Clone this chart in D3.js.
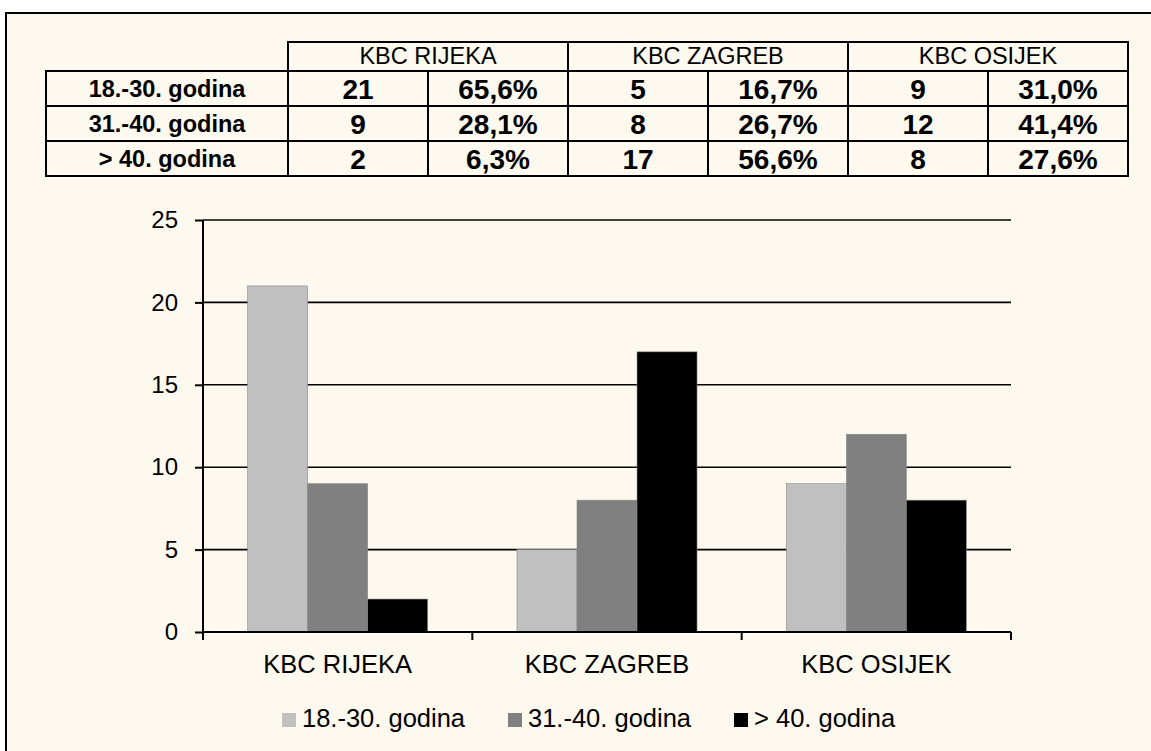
<!DOCTYPE html>
<html>
<head>
<meta charset="utf-8">
<script src="https://cdnjs.cloudflare.com/ajax/libs/d3/7.8.5/d3.min.js"></script>
<style>
  body { margin: 0; background: #ffffff; }
  svg { display: block; font-family: "Liberation Sans", Arial, sans-serif; }
</style>
</head>
<body>
<script>
// data
const hospitals = ["KBC RIJEKA", "KBC ZAGREB", "KBC OSIJEK"];
const ageGroups = ["18.-30. godina", "31.-40. godina", "> 40. godina"];
const rijekaCounts = [21, 9, 2];
const zagrebCounts = [5, 8, 17];
const osijekCounts = [9, 12, 8];
const rijekaPct = [65.6, 28.1, 6.3];
const zagrebPct = [16.7, 26.7, 56.6];
const osijekPct = [31.0, 41.4, 27.6];
const yTicks = [0, 5, 10, 15, 20, 25];
const colors = ["#c0c0c0", "#808080", "#000000"];

const counts = [rijekaCounts, zagrebCounts, osijekCounts];
const pcts = [rijekaPct, zagrebPct, osijekPct];

const W = 1151, H = 751;
const svg = d3.select("body").append("svg")
    .attr("width", W)
    .attr("height", H);

// outer frame (runs off the right / bottom edge)
svg.append("rect")
    .attr("x", 6).attr("y", 13)
    .attr("width", W + 20).attr("height", H + 20)
    .attr("fill", "#fef9ee")
    .attr("stroke", "#000")
    .attr("stroke-width", 2);

const fmtPct = v => d3.format(".1f")(v).replace(".", ",") + "%";

// ---------- TABLE ----------
const tbl = svg.append("g");
const colX = d3.scaleBand().domain(hospitals).range([288, 1128]);
const subX = d3.scaleBand().domain([0, 1]).range([0, colX.bandwidth()]);
const rowY = d3.scaleBand().domain(ageGroups).range([71, 176]);
const headTop = 42, labelLeft = 46;

// header cells
tbl.selectAll(".hcell")
    .data(hospitals)
    .enter().append("rect")
    .attr("x", d => colX(d))
    .attr("y", headTop)
    .attr("width", colX.bandwidth())
    .attr("height", rowY(ageGroups[0]) - headTop)
    .attr("fill", "none").attr("stroke", "#000").attr("stroke-width", 2);

tbl.selectAll(".htext")
    .data(hospitals)
    .enter().append("text")
    .attr("x", d => colX(d) + colX.bandwidth() / 2)
    .attr("y", 64)
    .attr("text-anchor", "middle")
    .attr("font-size", 23.5)
    .attr("fill", "#000")
    .text(d => d);

// row label cells
tbl.selectAll(".lcell")
    .data(ageGroups)
    .enter().append("rect")
    .attr("x", labelLeft)
    .attr("y", d => rowY(d))
    .attr("width", 288 - labelLeft)
    .attr("height", rowY.bandwidth())
    .attr("fill", "none").attr("stroke", "#000").attr("stroke-width", 2);

tbl.selectAll(".ltext")
    .data(ageGroups)
    .enter().append("text")
    .attr("x", (labelLeft + 288) / 2)
    .attr("y", d => rowY(d) + rowY.bandwidth() / 2 + 8)
    .attr("text-anchor", "middle")
    .attr("font-size", 23.5)
    .attr("font-weight", "bold")
    .text(d => d);

// value cells
const cells = [];
hospitals.forEach((h, hi) => {
    ageGroups.forEach((a, ai) => {
        cells.push({ h, a, sub: 0, text: String(counts[hi][ai]) });
        cells.push({ h, a, sub: 1, text: fmtPct(pcts[hi][ai]) });
    });
});

tbl.selectAll(".vcell")
    .data(cells)
    .enter().append("rect")
    .attr("x", d => colX(d.h) + subX(d.sub))
    .attr("y", d => rowY(d.a))
    .attr("width", subX.bandwidth())
    .attr("height", rowY.bandwidth())
    .attr("fill", "none").attr("stroke", "#000").attr("stroke-width", 2);

tbl.selectAll(".vtext")
    .data(cells)
    .enter().append("text")
    .attr("x", d => colX(d.h) + subX(d.sub) + subX.bandwidth() / 2)
    .attr("y", d => rowY(d.a) + rowY.bandwidth() / 2 + 10)
    .attr("text-anchor", "middle")
    .attr("font-size", 28)
    .attr("font-weight", "bold")
    .text(d => d.text);

// ---------- CHART ----------
const x0 = d3.scaleBand().domain(hospitals).range([203, 1011])
    .paddingInner(0).paddingOuter(0);
const x1 = d3.scaleBand().domain(ageGroups).range([0, x0.bandwidth()])
    .paddingInner(0).paddingOuter(0.744);
const y = d3.scaleLinear().domain([0, 25]).range([632, 220]);

const chart = svg.append("g");

// gridlines
chart.selectAll(".grid")
    .data(yTicks.filter(t => t > 0))
    .enter().append("line")
    .attr("x1", 203).attr("x2", 1011)
    .attr("y1", d => y(d)).attr("y2", d => y(d))
    .attr("stroke", "#000").attr("stroke-width", 1.6);

// bars
const groups = chart.selectAll(".grp")
    .data(hospitals)
    .enter().append("g")
    .attr("transform", d => `translate(${x0(d)},0)`);

groups.selectAll("rect")
    .data((d, i) => ageGroups.map((a, ai) => ({ a, ai, v: counts[i][ai] })))
    .enter().append("rect")
    .attr("x", d => x1(d.a))
    .attr("y", d => y(d.v))
    .attr("width", x1.bandwidth())
    .attr("height", d => y(0) - y(d.v))
    .attr("fill", d => colors[d.ai])
    .attr("stroke", "#8a8a8a")
    .attr("stroke-width", 0.6);

// y axis
const yAxis = chart.append("g")
    .attr("transform", "translate(203,0)")
    .call(d3.axisLeft(y).tickValues(yTicks).tickSize(8).tickPadding(17));
yAxis.select(".domain").attr("stroke", "#000").attr("stroke-width", 2)
    .attr("d", "M0,220V640");
yAxis.selectAll(".tick line").attr("stroke", "#000").attr("stroke-width", 2);
yAxis.selectAll(".tick text")
    .attr("font-size", 24)
    .attr("font-family", "'Liberation Sans', Arial, sans-serif")
    .attr("fill", "#000");

// x axis with ticks at category boundaries
const xAxisG = chart.append("g");
xAxisG.append("line")
    .attr("x1", 203).attr("x2", 1011)
    .attr("y1", y(0)).attr("y2", y(0))
    .attr("stroke", "#000").attr("stroke-width", 2);
const bounds = hospitals.map(h => x0(h)).concat([x0(hospitals[2]) + x0.bandwidth()]);
xAxisG.selectAll(".xt")
    .data(bounds)
    .enter().append("line")
    .attr("x1", d => d).attr("x2", d => d)
    .attr("y1", y(0)).attr("y2", y(0) + 8)
    .attr("stroke", "#000").attr("stroke-width", 2);
xAxisG.selectAll(".xl")
    .data(hospitals)
    .enter().append("text")
    .attr("x", d => x0(d) + x0.bandwidth() / 2)
    .attr("y", 673)
    .attr("text-anchor", "middle")
    .attr("font-size", 25.5)
    .text(d => d);

// legend
const legend = svg.append("g");
const legX = [282, 508, 734];
ageGroups.forEach((a, i) => {
    legend.append("rect")
        .attr("x", legX[i]).attr("y", 713)
        .attr("width", 14).attr("height", 14)
        .attr("fill", colors[i]);
    legend.append("text")
        .attr("x", legX[i] + 20).attr("y", 727)
        .attr("font-size", 25.5)
        .text(a);
});
</script>
</body>
</html>
